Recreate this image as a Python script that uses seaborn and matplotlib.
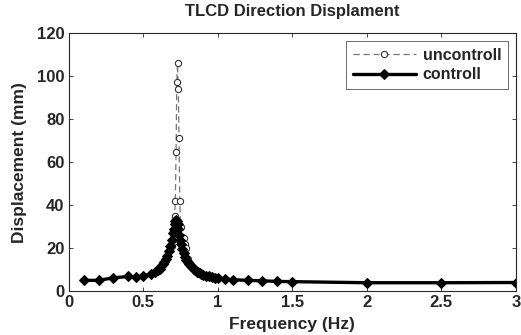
import matplotlib
matplotlib.use("Agg")
import matplotlib.pyplot as plt
import seaborn as sns
import pandas as pd

freq_unc = [0.1, 0.2, 0.3, 0.4, 0.45, 0.5, 0.55, 0.6, 0.62, 0.64, 0.66, 0.68, 0.69, 0.70,
            0.71, 0.715, 0.72, 0.725, 0.73, 0.735, 0.74, 0.745, 0.75, 0.76, 0.77, 0.78,
            0.79, 0.80, 0.82, 0.85, 0.9, 0.95, 1.0, 1.1, 1.2, 1.3, 1.4, 1.5, 2.0, 2.5, 3.0]
disp_unc = [5.0, 5.0, 6.2, 6.8, 6.5, 7.0, 8.0, 10.0, 11.0, 13.0, 16.0, 20.0, 21.0, 28.0,
            35.0, 42.0, 64.5, 97.5, 106.0, 94.0, 71.0, 42.0, 30.0, 25.0, 24.5, 22.0,
            20.0, 15.0, 12.0, 9.5, 7.7, 6.6, 6.0, 5.4, 5.0, 4.8, 4.5, 4.4, 4.0, 3.9, 4.0]

freq_ctl = [0.1, 0.2, 0.3, 0.4, 0.45, 0.5, 0.55, 0.58, 0.6, 0.61, 0.62, 0.63, 0.64, 0.65,
            0.66, 0.67, 0.68, 0.69, 0.70, 0.705, 0.71, 0.715, 0.72, 0.725, 0.73, 0.735,
            0.74, 0.745, 0.75, 0.76, 0.77, 0.78, 0.79, 0.80, 0.81, 0.82, 0.83, 0.84,
            0.85, 0.86, 0.87, 0.88, 0.89, 0.9, 0.92, 0.94, 0.96, 0.98, 1.0, 1.05, 1.1,
            1.2, 1.3, 1.4, 1.5, 2.0, 2.5, 3.0]
disp_ctl = [5.0, 5.0, 6.2, 6.8, 6.5, 7.0, 8.0, 9.0, 10.0, 10.5, 11.5, 12.5, 13.5, 15.0,
            16.5, 18.5, 21.0, 24.0, 27.0, 29.0, 31.0, 32.5, 33.0, 32.5, 31.0, 29.0,
            26.0, 24.0, 22.0, 19.5, 17.5, 16.0, 14.5, 13.5, 12.5, 11.5, 11.0, 10.2,
            9.6, 9.1, 8.7, 8.3, 8.0, 7.7, 7.2, 6.8, 6.4, 6.1, 5.9, 5.6, 5.3,
            5.0, 4.8, 4.5, 4.4, 3.9, 3.9, 4.0]

x_ticks = [0, 0.5, 1, 1.5, 2, 2.5, 3]
x_tick_labels = ["0", "0.5", "1", "1.5", "2", "2.5", "3"]
y_ticks = [0, 20, 40, 60, 80, 100, 120]

sns.set_style("ticks", {"xtick.direction": "in", "ytick.direction": "in"})
plt.rcParams["font.family"] = ["Liberation Sans", "DejaVu Sans"]
plt.rcParams["font.weight"] = "bold"

df_unc = pd.DataFrame({"f": freq_unc, "d": disp_unc})
df_ctl = pd.DataFrame({"f": freq_ctl, "d": disp_ctl})

fig = plt.figure(figsize=(5.21, 3.35), dpi=100)
ax = fig.add_axes([0.132, 0.131, 0.858, 0.770])

sns.lineplot(data=df_unc, x="f", y="d", ax=ax, estimator=None, sort=False,
             color="#777777", linestyle=(0, (5, 3)), linewidth=0.9,
             marker="o", markersize=4.5, markerfacecolor="white",
             markeredgecolor="#333333", markeredgewidth=0.8, label="uncontroll")
sns.lineplot(data=df_ctl, x="f", y="d", ax=ax, estimator=None, sort=False,
             color="black", linewidth=2.4, marker="D", markersize=5.5,
             markerfacecolor="black", markeredgecolor="black", label="controll")

ax.set_xlim(0, 3)
ax.set_ylim(0, 120)
ax.set_xticks(x_ticks)
ax.set_xticklabels(x_tick_labels, fontweight="bold")
ax.set_yticks(y_ticks)
ax.set_yticklabels([str(v) for v in y_ticks], fontweight="bold")
ax.tick_params(labelsize=12, length=3, width=0.6, top=True, right=True, pad=3)
for s in ax.spines.values():
    s.set_linewidth(0.8)
    s.set_visible(True)

ax.set_xlabel("Frequency (Hz)", fontsize=12.5, fontweight="bold", labelpad=5)
ax.set_ylabel("Displacement (mm)", fontsize=12.5, fontweight="bold", labelpad=7)
ax.set_title("TLCD Direction Displament", fontsize=12, fontweight="bold", pad=12)

leg = ax.legend(loc="upper right", prop={"size": 11.5, "weight": "bold"},
                frameon=True, fancybox=False,
                edgecolor="#555555", framealpha=1, borderaxespad=0.5,
                handlelength=4, handletextpad=0.4, labelspacing=0.3,
                borderpad=0.4)
leg.get_frame().set_linewidth(0.6)

fig.savefig("out.png", dpi=100)
